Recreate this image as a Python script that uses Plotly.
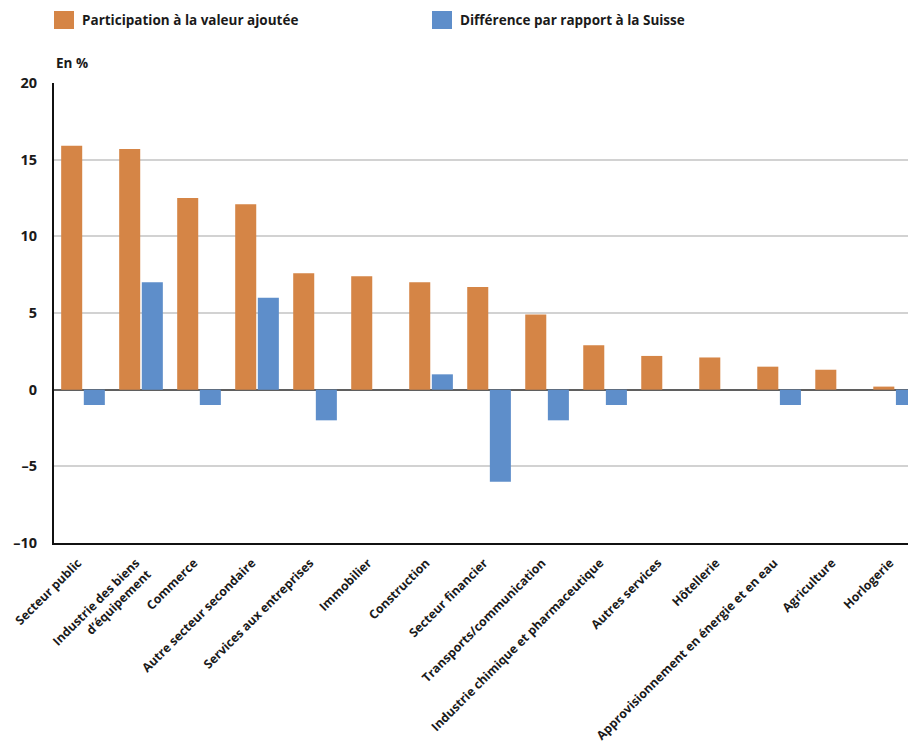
import plotly.graph_objects as go

categories = [
    "Secteur public",
    "Industrie des biens<br>d’équipement",
    "Commerce",
    "Autre secteur secondaire",
    "Services aux entreprises",
    "Immobilier",
    "Construction",
    "Secteur financier",
    "Transports/communication",
    "Industrie chimique et pharmaceutique",
    "Autres services",
    "Hôtellerie",
    "Approvisionnement en énergie et en eau",
    "Agriculture",
    "Horlogerie",
]
participation = [15.9, 15.7, 12.5, 12.1, 7.6, 7.4, 7.0, 6.7, 4.9, 2.9, 2.2, 2.1, 1.5, 1.3, 0.2]
difference = [-1, 7, -1, 6, -2, 0, 1, -6, -2, -1, 0, 0, -1, 0, -1]

y_tickvals = [-10, -5, 0, 5, 10, 15, 20]
y_ticktext = ["–10", "–5", "0", "5", "10", "15", "20"]

name_part = "Participation à la valeur ajoutée"
name_diff = "Différence par rapport à la Suisse"

ORANGE = "#D58546"
BLUE = "#5E8ECA"
TXT = "#1a1a1a"
FONT = "Open Sans"

OFF = 8  # page body margin
W, H = 916 - OFF, 742 - OFF
L, R, T, B = 54 - OFF, 0, 83 - OFF, 199
PW, PH = W - L - R, H - T - B


def px(xp):
    return (xp - OFF - L) / PW


def py(yp):
    return (H - B - (yp - OFF)) / PH


fig = go.Figure()
fig.add_trace(go.Bar(x=categories, y=participation, name=name_part,
                     marker=dict(color=ORANGE, line=dict(width=0))))
fig.add_trace(go.Bar(x=categories, y=difference, name=name_diff,
                     marker=dict(color=BLUE, line=dict(width=0))))

fig.update_layout(
    width=W, height=H,
    margin=dict(l=L, r=R, t=T, b=B, pad=0, autoexpand=False),
    paper_bgcolor="white", plot_bgcolor="white",
    barmode="group", bargap=0.22, bargroupgap=0.07,
    showlegend=False,
    font=dict(family=FONT, color=TXT, size=13, weight="bold"),
    xaxis=dict(
        type="category", range=[-0.5, 14.36], automargin=False,
        tickangle=-45, showline=True, linecolor="#111111", linewidth=2,
        ticks="", showgrid=False, ticklabelstandoff=6, ticklabelshift=-5,
        tickfont=dict(family=FONT, size=12.3, color=TXT, weight="bold"),
    ),
    yaxis=dict(
        range=[-10, 20], tickvals=y_tickvals, ticktext=y_ticktext,
        automargin=False,
        showgrid=True, gridcolor="#d2d2d2", gridwidth=2,
        zeroline=True, zerolinecolor="#5f5f5f", zerolinewidth=2,
        showline=True, linecolor="#111111", linewidth=2,
        ticks="", ticklabelstandoff=12,
        tickfont=dict(family=FONT, size=14.5, color=TXT, weight="bold"),
    ),
)

# "En %" unit label
fig.add_annotation(xref="paper", yref="paper", x=px(54), y=py(63),
                   text="En %", showarrow=False, xanchor="left", yanchor="middle",
                   font=dict(family=FONT, size=13.5, color=TXT, weight="bold"))

# Custom legend (large squares)
legend_items = [(name_part, ORANGE, 54), (name_diff, BLUE, 432)]
for name, col, x0 in legend_items:
    fig.add_shape(type="rect", xref="paper", yref="paper",
                  x0=px(x0), x1=px(x0 + 20), y0=py(29), y1=py(11),
                  fillcolor=col, line=dict(width=0))
    fig.add_annotation(xref="paper", yref="paper", x=px(x0 + 26), y=py(20),
                       text=name, showarrow=False, xanchor="left", yanchor="middle",
                       font=dict(family=FONT, size=13.5, color=TXT, weight="bold"))

fig.write_html("out.html")
